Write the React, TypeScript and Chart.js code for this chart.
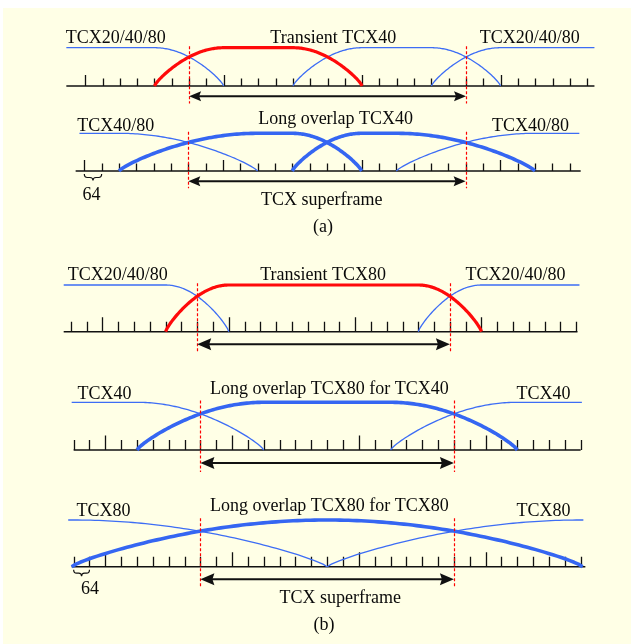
import React, { useEffect, useRef } from 'react';
import { Chart, registerables } from 'chart.js';

Chart.register(...registerables);

const W = 631;
const H = 644;

// Sample positions (superframe starts at 0, one tick = 64 samples)
const superframe = [0, 1024];
const tickStep = 64;
const majorStep = 512;
const majorOrigin = -384;

const rowIds = ['A1', 'A2', 'B1', 'B2', 'B3'];

// windows: [rise start, rise end, fall start, fall end]
const windowsA1 = [[-454, -454, -128, 128], [-128, 128, 384, 640], [384, 640, 896, 1152], [896, 1152, 1499, 1499]];
const kindsA1 = ['thin', 'red', 'thin', 'thin'];
const windowsA2 = [[-402, -402, -256, 256], [-256, 256, 384, 640], [384, 640, 768, 1280], [768, 1280, 1444, 1444]];
const kindsA2 = ['thin', 'thick', 'thick', 'thin'];
const windowsB1 = [[-541, -541, -128, 128], [-128, 128, 896, 1152], [896, 1152, 1549, 1549]];
const kindsB1 = ['thin', 'red', 'thin'];
const windowsB2 = [[-520, -520, -256, 256], [-256, 256, 768, 1280], [768, 1280, 1541, 1541]];
const kindsB2 = ['thin', 'thick', 'thin'];
const windowsB3 = [[-534, -534, -512, 512], [-520, 512, 512, 1544], [512, 1536, 1547, 1547]];
const kindsB3 = ['thin', 'thick', 'thin'];

// time axes: [line start, line end, first tick, last tick]
const axisA1 = [-454, 1499, -384, 1472];
const axisA2 = [-416, 1449, -384, 1408];
const axisB1 = [-541, 1541, -512, 1536];
const axisB2 = [-512, 1536, -512, 1536];
const axisB3 = [-520, 1555, -512, 1536];

// row labels
const labelsA1 = ['TCX20/40/80', 'Transient TCX40', 'TCX20/40/80'];
const labelsA2 = ['TCX40/80', 'Long overlap TCX40', 'TCX40/80'];
const labelsB1 = ['TCX20/40/80', 'Transient TCX80', 'TCX20/40/80'];
const labelsB2 = ['TCX40', 'Long overlap TCX80 for TCX40', 'TCX40'];
const labelsB3 = ['TCX80', 'Long overlap TCX80 for TCX80', 'TCX80'];

const labelPosA1 = [[-271, 1.29], [533, 1.29], [1260, 1.29]];
const labelPosA2 = [[-268, 1.22], [544, 1.4], [1264, 1.22]];
const labelPosB1 = [[-322, 1.24], [510, 1.24], [1290, 1.24]];
const labelPosB2 = [[-387, 1.19], [521, 1.29], [1386, 1.19]];
const labelPosB3 = [[-391, 1.21], [521, 1.32], [1386, 1.21]];

// captions: [text, row, x, y]
const captions = [
  ['TCX superframe', 'A2', 493, -0.75],
  ['(a)', 'A2', 497, -1.45],
  ['64', 'A2', -357, -0.61],
  ['TCX superframe', 'B3', 565, -0.64],
  ['(b)', 'B3', 499, -1.22],
  ['64', 'B3', -446, -0.46],
];
// braces: [row, from, to]
const braces = [['A2', -384, -320], ['B3', -512, -448]];

const rows: any = {
  A1: { windows: windowsA1, kinds: kindsA1, axis: axisA1, labels: labelsA1, pos: labelPosA1 },
  A2: { windows: windowsA2, kinds: kindsA2, axis: axisA2, labels: labelsA2, pos: labelPosA2 },
  B1: { windows: windowsB1, kinds: kindsB1, axis: axisB1, labels: labelsB1, pos: labelPosB1 },
  B2: { windows: windowsB2, kinds: kindsB2, axis: axisB2, labels: labelsB2, pos: labelPosB2 },
  B3: { windows: windowsB3, kinds: kindsB3, axis: axisB3, labels: labelsB3, pos: labelPosB3 },
};

// layout (pixels): superframe start/end x, baseline y, window height, tick sizes, arrow head
const layout: any = {
  A1: { p0: 189.1, p1: 466.0, base: 86, amp: 38.3, minor: 7.5, major: 11, head: 12, half: 5 },
  A2: { p0: 188.3, p1: 465.6, base: 171, amp: 37.7, minor: 7.5, major: 11, head: 12, half: 5 },
  B1: { p0: 197.2, p1: 449.9, base: 331.7, amp: 46.7, minor: 10, major: 14.5, head: 14, half: 6 },
  B2: { p0: 200.4, p1: 453.9, base: 450, amp: 47.7, minor: 10, major: 14.5, head: 14, half: 6 },
  B3: { p0: 200.4, p1: 453.9, base: 566.7, amp: 46.7, minor: 10, major: 14.5, head: 14, half: 6 },
};

const kindStyle: any = {
  thin: { color: '#3D6DF5', width: 1.3, order: 0 },
  thick: { color: '#3566F2', width: 3.6, order: 1 },
  red: { color: '#FF0A0A', width: 3.2, order: 2 },
};

const FONT = '18px "Liberation Serif", "Times New Roman", serif';
const SHAPE_POW = 0.8;

function shape(t: number) {
  return Math.pow(Math.sin((Math.PI / 2) * Math.max(0, Math.min(1, t))), SHAPE_POW);
}

function drawText(ctx: any, text: string, x: number, yCenter: number) {
  ctx.save();
  ctx.font = FONT;
  ctx.fillStyle = '#0a0a0a';
  ctx.textAlign = 'center';
  ctx.textBaseline = 'alphabetic';
  ctx.fillText(text, x, yCenter + 6);
  ctx.restore();
}

const diagramPlugin = {
  id: 'diagram',
  beforeDraw(chart: any) {
    const ctx = chart.ctx;
    ctx.save();
    ctx.fillStyle = '#ffffff';
    ctx.fillRect(0, 0, W, H);
    ctx.fillStyle = '#FFFFE6';
    ctx.fillRect(3, 8, W - 3, H - 8);
    ctx.restore();
  },
  afterDatasetsDraw(chart: any) {
    const ctx = chart.ctx;
    // axes, ticks
    for (const id of rowIds) {
      const xs = chart.scales['x' + id];
      const ys = chart.scales['y' + id];
      const L = layout[id];
      const ax = rows[id].axis;
      const by = ys.getPixelForValue(0);
      ctx.save();
      ctx.strokeStyle = '#111';
      ctx.lineWidth = 1.5;
      ctx.beginPath();
      ctx.moveTo(xs.getPixelForValue(ax[0]), by);
      ctx.lineTo(xs.getPixelForValue(ax[1]), by);
      ctx.stroke();
      ctx.lineWidth = 1.3;
      ctx.beginPath();
      for (let t = ax[2]; t <= ax[3]; t += tickStep) {
        const major = ((t - majorOrigin) % majorStep + majorStep) % majorStep === 0;
        const px = Math.round(xs.getPixelForValue(t)) + 0.5;
        ctx.moveTo(px, by);
        ctx.lineTo(px, by - (major ? L.major : L.minor));
      }
      ctx.stroke();
      ctx.restore();
    }
    // windows
    const metas = chart.data.datasets.map((ds: any, i: number) => ({ ds, i }));
    metas.sort((a: any, b: any) => kindStyle[a.ds.kind].order - kindStyle[b.ds.kind].order);
    for (const { ds, i } of metas) {
      const meta = chart.getDatasetMeta(i);
      const xs = meta.xScale;
      const ys = meta.yScale;
      const st = kindStyle[ds.kind];
      const pts = ds.data;
      ctx.save();
      ctx.strokeStyle = st.color;
      ctx.lineWidth = st.width;
      ctx.lineJoin = 'round';
      ctx.lineCap = 'butt';
      ctx.beginPath();
      ctx.moveTo(xs.getPixelForValue(pts[0].x), ys.getPixelForValue(pts[0].y));
      for (let k = 1; k < pts.length; k++) {
        const a = pts[k - 1];
        const b = pts[k];
        if (a.y === b.y) {
          ctx.lineTo(xs.getPixelForValue(b.x), ys.getPixelForValue(b.y));
        } else {
          const n = 60;
          for (let j = 1; j <= n; j++) {
            const t = j / n;
            const xv = a.x + (b.x - a.x) * t;
            const yv = a.y < b.y ? shape(t) : shape(1 - t);
            ctx.lineTo(xs.getPixelForValue(xv), ys.getPixelForValue(yv));
          }
        }
      }
      ctx.stroke();
      ctx.restore();
    }
    // superframe markers, arrows, labels
    for (const id of rowIds) {
      const xs = chart.scales['x' + id];
      const ys = chart.scales['y' + id];
      const L = layout[id];
      const xa = xs.getPixelForValue(superframe[0]);
      const xb = xs.getPixelForValue(superframe[1]);
      ctx.save();
      ctx.strokeStyle = '#FF0000';
      ctx.lineWidth = 1.2;
      ctx.setLineDash([3, 2]);
      ctx.beginPath();
      for (const x of [xa, xb]) {
        const px = Math.round(x) + 0.5;
        ctx.moveTo(px, ys.getPixelForValue(1.04));
        ctx.lineTo(px, ys.getPixelForValue(-0.46));
      }
      ctx.stroke();
      ctx.restore();

      const ay = ys.getPixelForValue(-0.27);
      ctx.save();
      ctx.strokeStyle = '#111';
      ctx.fillStyle = '#111';
      ctx.lineWidth = 2;
      ctx.beginPath();
      ctx.moveTo(xa + 4, ay);
      ctx.lineTo(xb - 4, ay);
      ctx.stroke();
      ctx.beginPath();
      ctx.moveTo(xa, ay);
      ctx.lineTo(xa + L.head, ay - L.half);
      ctx.lineTo(xa + L.head - 2, ay);
      ctx.lineTo(xa + L.head, ay + L.half);
      ctx.closePath();
      ctx.fill();
      ctx.beginPath();
      ctx.moveTo(xb, ay);
      ctx.lineTo(xb - L.head, ay - L.half);
      ctx.lineTo(xb - L.head + 2, ay);
      ctx.lineTo(xb - L.head, ay + L.half);
      ctx.closePath();
      ctx.fill();
      ctx.restore();

      const r = rows[id];
      r.labels.forEach((txt: string, k: number) => {
        drawText(ctx, txt, xs.getPixelForValue(r.pos[k][0]), ys.getPixelForValue(r.pos[k][1]));
      });
    }
    for (const c of captions) {
      const [txt, id, x, y] = c as any;
      drawText(ctx, txt, chart.scales['x' + id].getPixelForValue(x), chart.scales['y' + id].getPixelForValue(y));
    }
    for (const b of braces) {
      const [id, from, to] = b as any;
      const xs = chart.scales['x' + id];
      const by = chart.scales['y' + id].getPixelForValue(0);
      const x1 = xs.getPixelForValue(from);
      const x2 = xs.getPixelForValue(to);
      const xm = (x1 + x2) / 2;
      const yt = by + 3;
      const ym = by + 6.5;
      const yb = by + 9.5;
      ctx.save();
      ctx.strokeStyle = '#111';
      ctx.lineWidth = 1.2;
      ctx.beginPath();
      ctx.moveTo(x1, yt);
      ctx.quadraticCurveTo(x1, ym, x1 + 3, ym);
      ctx.lineTo(xm - 3, ym);
      ctx.quadraticCurveTo(xm, ym, xm, yb);
      ctx.quadraticCurveTo(xm, ym, xm + 3, ym);
      ctx.lineTo(x2 - 3, ym);
      ctx.quadraticCurveTo(x2, ym, x2, yt);
      ctx.stroke();
      ctx.restore();
    }
  },
};

function buildScales() {
  const scales: any = {};
  for (const id of rowIds) {
    const L = layout[id];
    const k = (L.p1 - L.p0) / (superframe[1] - superframe[0]);
    scales['x' + id] = {
      type: 'linear', axis: 'x', display: false, bounds: 'data',
      min: superframe[0] - L.p0 / k, max: superframe[0] + (W - L.p0) / k,
    };
    scales['y' + id] = {
      type: 'linear', axis: 'y', display: false, bounds: 'data',
      min: -(H - L.base) / L.amp, max: L.base / L.amp,
    };
  }
  return scales;
}

function buildDatasets() {
  const out: any[] = [];
  for (const id of rowIds) {
    const r = rows[id];
    r.windows.forEach((w: number[], k: number) => {
      out.push({
        label: id + '-' + k,
        kind: r.kinds[k],
        xAxisID: 'x' + id,
        yAxisID: 'y' + id,
        showLine: false,
        pointRadius: 0,
        data: [
          { x: w[0], y: w[0] === w[1] ? 1 : 0 },
          { x: w[1], y: 1 },
          { x: w[2], y: 1 },
          { x: w[3], y: w[2] === w[3] ? 1 : 0 },
        ],
      });
    });
  }
  return out;
}

export default function App() {
  const ref = useRef<HTMLCanvasElement | null>(null);
  useEffect(() => {
    if (!ref.current) return;
    const chart = new Chart(ref.current, {
      type: 'scatter',
      data: { datasets: buildDatasets() },
      options: {
        responsive: false,
        animation: false,
        devicePixelRatio: 1,
        layout: { padding: 0 },
        events: [],
        plugins: { legend: { display: false }, tooltip: { enabled: false }, title: { display: false } },
        scales: buildScales(),
      } as any,
      plugins: [diagramPlugin as any],
    });
    return () => chart.destroy();
  }, []);
  return (
    <div style={{ position: 'fixed', left: 0, top: 0, width: W, height: H }}>
      <canvas ref={ref} width={W} height={H} style={{ width: W, height: H, display: 'block' }} />
    </div>
  );
}
